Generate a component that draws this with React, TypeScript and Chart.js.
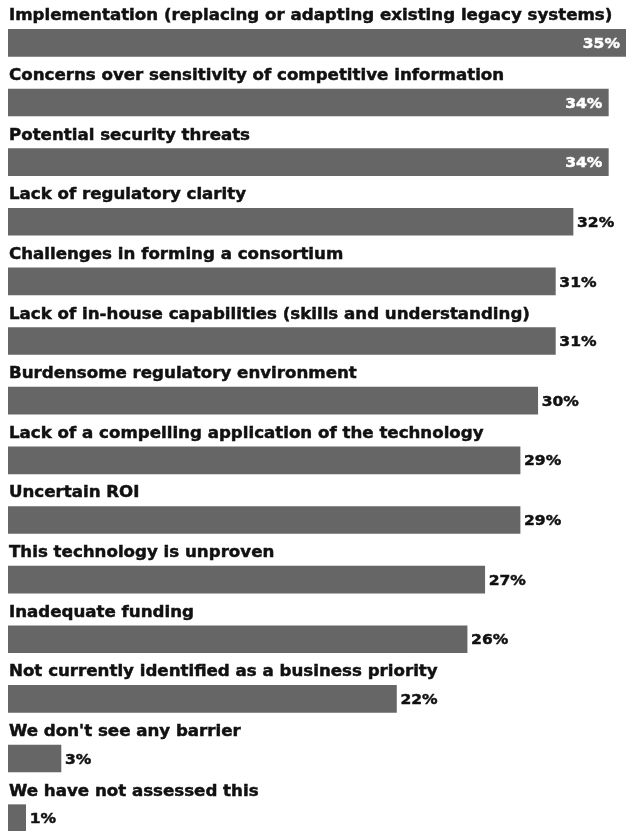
import React, { useEffect, useRef } from "react";
import { Chart, registerables } from "chart.js";

Chart.register(...registerables);

const categories = [
  "Implementation (replacing or adapting existing legacy systems)",
  "Concerns over sensitivity of competitive information",
  "Potential security threats",
  "Lack of regulatory clarity",
  "Challenges in forming a consortium",
  "Lack of in-house capabilities (skills and understanding)",
  "Burdensome regulatory environment",
  "Lack of a compelling application of the technology",
  "Uncertain ROI",
  "This technology is unproven",
  "Inadequate funding",
  "Not currently identified as a business priority",
  "We don't see any barrier",
  "We have not assessed this",
];

const values = [35, 34, 34, 32, 31, 31, 30, 29, 29, 27, 26, 22, 3, 1];

const LABEL_FONT = "bold 15px 'DejaVu Sans'";
const VALUE_FONT = "bold 14px 'DejaVu Sans'";
const STRETCH = 1.11;

function drawStretched(ctx: any, text: string, x: number, y: number, align: "left" | "right") {
  const w = ctx.measureText(text).width * STRETCH;
  const startX = align === "left" ? x : x - w;
  ctx.save();
  ctx.translate(startX, y);
  ctx.scale(STRETCH, 1);
  ctx.textAlign = "left";
  ctx.lineWidth = 0.45;
  ctx.strokeStyle = ctx.fillStyle;
  ctx.fillText(text, 0, 0);
  ctx.strokeText(text, 0, 0);
  ctx.restore();
  return w;
}

const labelPlugin = {
  id: "rowLabels",
  afterDatasetsDraw(chart: any) {
    const ctx = chart.ctx;
    const meta = chart.getDatasetMeta(0);
    const area = chart.chartArea;
    ctx.save();
    meta.data.forEach((bar: any, i: number) => {
      const { x, y, height } = bar.getProps(["x", "y", "height"], true);
      const top = y - height / 2;
      ctx.font = LABEL_FONT;
      ctx.fillStyle = "#111";
      ctx.textBaseline = "alphabetic";
      drawStretched(ctx, categories[i], area.left + 1, top - 9, "left");

      const txt = values[i] + "%";
      ctx.font = VALUE_FONT;
      ctx.textBaseline = "middle";
      const w = ctx.measureText(txt).width * STRETCH;
      if (x + 4 + w <= chart.width - 1) {
        ctx.fillStyle = "#111";
        drawStretched(ctx, txt, x + 4, y + 1.5, "left");
      } else {
        ctx.fillStyle = "#fff";
        drawStretched(ctx, txt, x - 6, y + 1.5, "right");
      }
    });
    ctx.restore();
  },
};

export default function App() {
  const ref = useRef<HTMLCanvasElement | null>(null);
  useEffect(() => {
    if (!ref.current) return;
    const chart = new Chart(ref.current, {
      type: "bar",
      data: {
        labels: categories,
        datasets: [
          {
            data: values,
            backgroundColor: "#666666",
            borderWidth: 0,
            barThickness: 27,
          },
        ],
      },
      options: {
        indexAxis: "y",
        responsive: false,
        animation: false,
        devicePixelRatio: 1,
        layout: { padding: { left: 8, right: 2, top: 13, bottom: 12 } },
        plugins: { legend: { display: false }, tooltip: { enabled: false } },
        scales: {
          x: { display: false, min: 0, max: 35 },
          y: { display: false },
        },
      },
      plugins: [labelPlugin],
    });
    return () => chart.destroy();
  }, []);
  return (
    <div
      style={{
        position: "fixed",
        left: 0,
        top: 0,
        width: 628,
        height: 831,
        overflow: "hidden",
        background: "#fff",
      }}
    >
      <canvas ref={ref} width={628} height={860} style={{ width: 628, height: 860, display: "block" }} />
    </div>
  );
}
